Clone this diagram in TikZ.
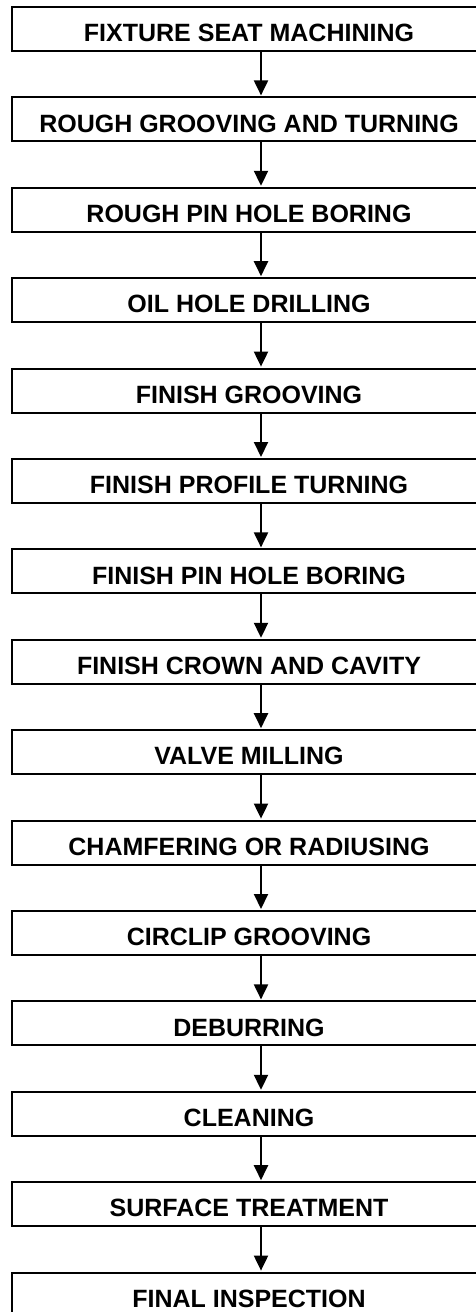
\documentclass[tikz,border=0pt]{standalone}
\usepackage{fontspec}
\setmainfont{Liberation Sans}
\usetikzlibrary{arrows.meta,positioning}

\begin{document}
\begin{tikzpicture}[
  node distance=22.2pt,
  every node/.style={font=\fontsize{12.5}{14}\selectfont\bfseries,align=center},
  stage/.style={draw=black,line width=1pt,minimum width=237pt,
                minimum height=22pt,inner sep=0pt,
                text height=12.7pt,text depth=0pt},
  flow/.style={-{Triangle[length=7.5pt,width=7pt]},line width=1pt,
               shorten >=0.5pt}
]
\useasboundingbox (0,0) rectangle (238pt,-656pt);
\node[stage] (fixture) at (124.5pt,-14.5pt) {FIXTURE SEAT MACHINING};
\node[stage,below=of fixture] (roughturn) {ROUGH GROOVING AND TURNING};
\node[stage,below=of roughturn] (roughpin) {ROUGH PIN HOLE BORING};
\node[stage,below=of roughpin] (oilhole) {OIL HOLE DRILLING};
\node[stage,below=of oilhole] (fingroove) {FINISH GROOVING};
\node[stage,below=of fingroove] (finprofile) {FINISH PROFILE TURNING};
\node[stage,below=of finprofile] (finpin) {FINISH PIN HOLE BORING};
\node[stage,below=of finpin] (crown) {FINISH CROWN AND CAVITY};
\node[stage,below=of crown] (valve) {VALVE MILLING};
\node[stage,below=of valve] (chamfer) {CHAMFERING OR RADIUSING};
\node[stage,below=of chamfer] (circlip) {CIRCLIP GROOVING};
\node[stage,below=of circlip] (deburr) {DEBURRING};
\node[stage,below=of deburr] (clean) {CLEANING};
\node[stage,below=of clean] (surface) {SURFACE TREATMENT};
\node[stage,below=of surface] (inspect) {FINAL INSPECTION};
% connectors sit a little right of the box centres
\draw[flow] ([xshift=6pt]fixture.south) -- ([xshift=6pt]roughturn.north);
\draw[flow] ([xshift=6pt]roughturn.south) -- ([xshift=6pt]roughpin.north);
\draw[flow] ([xshift=6pt]roughpin.south) -- ([xshift=6pt]oilhole.north);
\draw[flow] ([xshift=6pt]oilhole.south) -- ([xshift=6pt]fingroove.north);
\draw[flow] ([xshift=6pt]fingroove.south) -- ([xshift=6pt]finprofile.north);
\draw[flow] ([xshift=6pt]finprofile.south) -- ([xshift=6pt]finpin.north);
\draw[flow] ([xshift=6pt]finpin.south) -- ([xshift=6pt]crown.north);
\draw[flow] ([xshift=6pt]crown.south) -- ([xshift=6pt]valve.north);
\draw[flow] ([xshift=6pt]valve.south) -- ([xshift=6pt]chamfer.north);
\draw[flow] ([xshift=6pt]chamfer.south) -- ([xshift=6pt]circlip.north);
\draw[flow] ([xshift=6pt]circlip.south) -- ([xshift=6pt]deburr.north);
\draw[flow] ([xshift=6pt]deburr.south) -- ([xshift=6pt]clean.north);
\draw[flow] ([xshift=6pt]clean.south) -- ([xshift=6pt]surface.north);
\draw[flow] ([xshift=6pt]surface.south) -- ([xshift=6pt]inspect.north);
\end{tikzpicture}
\end{document}
